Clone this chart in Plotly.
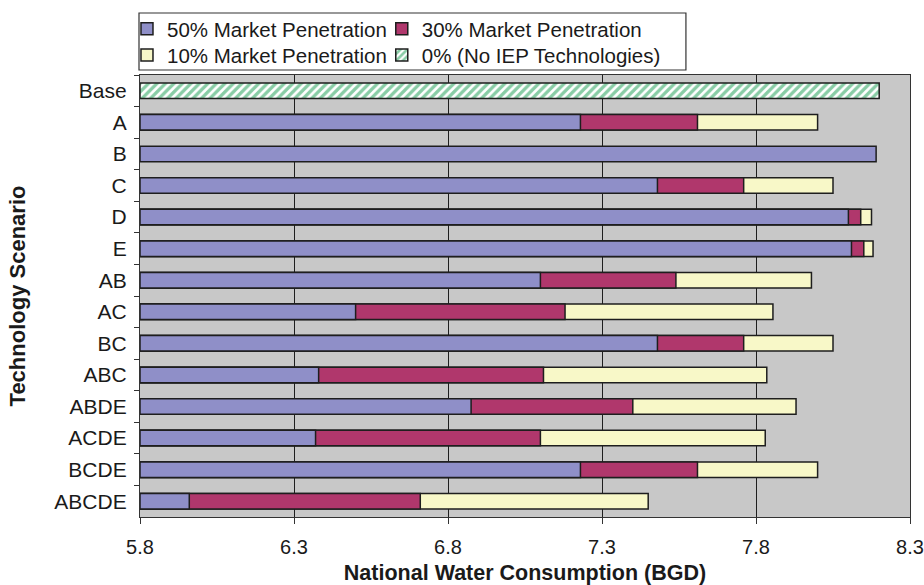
import plotly.graph_objects as go

# Scenario labels (top to bottom) and national water consumption (BGD)
scenarios = ["A", "B", "C", "D", "E", "AB", "AC", "BC", "ABC", "ABDE", "ACDE", "BCDE", "ABCDE"]
pen50 = [7.23, 8.19, 7.48, 8.10, 8.11, 7.10, 6.50, 7.48, 6.38, 6.875, 6.37, 7.23, 5.96]
pen30 = [7.61, None, 7.76, 8.14, 8.15, 7.54, 7.18, 7.76, 7.11, 7.40, 7.10, 7.61, 6.71]
pen10 = [8.00, None, 8.05, 8.175, 8.18, 7.98, 7.855, 8.05, 7.835, 7.93, 7.83, 8.00, 7.45]
base_label = ["Base"]
base_value = [8.20]

x_min, x_max = 5.8, 8.3
tick_vals = [5.8, 6.3, 6.8, 7.3, 7.8, 8.3]
category_order = base_label + scenarios

outline = dict(color="#1e1e1e", width=1.5)


def lengths(values):
    return [None if v is None else v - x_min for v in values]


fig = go.Figure()

# Longest bars first so the shorter, higher-penetration bars sit on top
fig.add_trace(go.Bar(
    y=scenarios, x=lengths(pen10), base=x_min, orientation="h",
    name="10% Market Penetration", legend="legend3",
    marker=dict(color="#f8f8c8", line=outline),
))
fig.add_trace(go.Bar(
    y=scenarios, x=lengths(pen30), base=x_min, orientation="h",
    name="30% Market Penetration", legend="legend2",
    marker=dict(color="#b0376c", line=outline),
))
fig.add_trace(go.Bar(
    y=scenarios, x=lengths(pen50), base=x_min, orientation="h",
    name="50% Market Penetration", legend="legend",
    marker=dict(color="#8f8fc8", line=outline),
))
fig.add_trace(go.Bar(
    y=base_label, x=lengths(base_value), base=x_min, orientation="h",
    name="0% (No IEP Technologies)", legend="legend4",
    marker=dict(
        color="white", line=outline,
        pattern=dict(shape="/", fgcolor="#129a4c", bgcolor="white", size=6, solidity=0.55),
    ),
))

font_family = "Liberation Sans, Arial, sans-serif"
legend_common = dict(
    orientation="h", xanchor="left", yanchor="middle",
    font=dict(family=font_family, size=20.5, color="#1a1a1a"),
    bgcolor="rgba(0,0,0,0)", borderwidth=0, itemwidth=30,
)
col1_x, col2_x = -0.0169, 0.314
row1_y, row2_y = 1.104, 1.045

fig.update_layout(
    width=924, height=585,
    margin=dict(l=140, r=14, t=75, b=68, autoexpand=False),
    paper_bgcolor="white", plot_bgcolor="#c8c8c8",
    barmode="overlay", bargap=0.51,
    showlegend=True,
    legend=dict(legend_common, x=col1_x, y=row1_y),
    legend2=dict(legend_common, x=col2_x, y=row1_y),
    legend3=dict(legend_common, x=col1_x, y=row2_y),
    legend4=dict(legend_common, x=col2_x, y=row2_y),
    shapes=[dict(
        type="rect", xref="paper", yref="paper",
        x0=-0.0013, x1=0.709, y0=1.0113, y1=1.1403,
        line=dict(color="#333333", width=1.2), fillcolor="rgba(0,0,0,0)",
        layer="above",
    )],
    font=dict(family=font_family, size=20, color="#1a1a1a"),
)

fig.update_xaxes(
    range=[x_min, x_max], tickvals=tick_vals, ticktext=[f"{v:.1f}" for v in tick_vals],
    showgrid=True, gridcolor="#1e1e1e", gridwidth=1,
    showline=True, linecolor="#333333", linewidth=1.2, mirror=True,
    ticks="outside", ticklen=6, tickcolor="#333333", ticklabelstandoff=6,
    tickfont=dict(size=20),
    zeroline=False,
    title=dict(text="<b>National Water Consumption (BGD)</b>", font=dict(size=21.5), standoff=14),
)
fig.update_yaxes(
    categoryorder="array", categoryarray=category_order, autorange="reversed",
    showgrid=False,
    showline=True, linecolor="#333333", linewidth=1.2, mirror=True,
    ticks="outside", ticklen=5, tickcolor="#333333", tickson="boundaries",
    ticklabelstandoff=8,
    tickfont=dict(size=21),
    title=dict(text="<b>Technology Scenario</b>", font=dict(size=22), standoff=22),
)

fig.write_html("out.html")
